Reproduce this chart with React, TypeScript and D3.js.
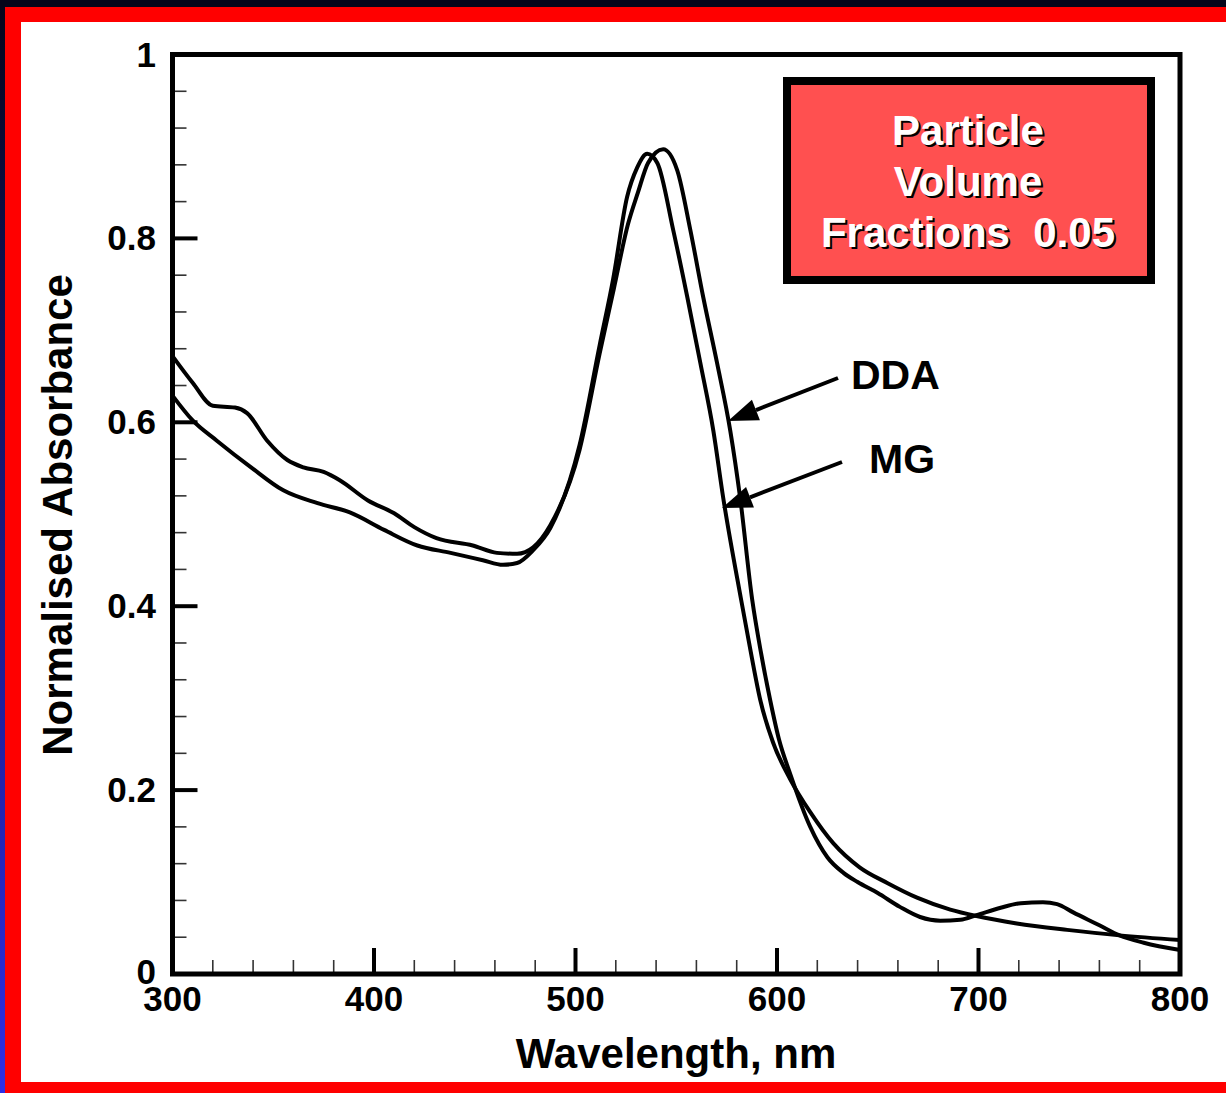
import { useEffect } from "react";
import * as d3 from "d3";

// DDA spectrum (wiggly one)
const ddaWl = [300, 310, 320, 331, 337, 347, 357, 365, 375, 383, 397, 410, 420, 431, 449, 461, 471, 479, 487.5, 502, 512, 519, 526, 531, 536, 543.5, 550.5, 557, 563.4, 570.3, 576.8, 581.7, 587.7, 592, 596.6, 601, 606.5, 616.5, 625, 633, 640, 650, 661, 671, 681, 691, 699, 711, 721, 732, 739, 747, 760, 770, 782, 800];
const ddaAbs = [0.672, 0.643, 0.618, 0.616, 0.61, 0.58, 0.559, 0.551, 0.546, 0.537, 0.515, 0.501, 0.486, 0.474, 0.466, 0.458, 0.457, 0.464, 0.488, 0.57, 0.675, 0.745, 0.815, 0.85, 0.882, 0.897, 0.874, 0.809, 0.736, 0.664, 0.591, 0.518, 0.407, 0.35, 0.298, 0.255, 0.218, 0.16, 0.127, 0.11, 0.1, 0.088, 0.073, 0.062, 0.058, 0.059, 0.064, 0.072, 0.077, 0.078, 0.076, 0.067, 0.053, 0.042, 0.034, 0.026];

// Maxwell Garnett spectrum (smooth)
const mgWl = [300, 310, 322, 339, 355, 372, 388, 405, 421.5, 438, 454, 464, 471, 479, 487.5, 502, 512, 518.7, 525.6, 530.6, 535.6, 540.6, 548.5, 555.5, 562, 568.4, 573.3, 582.2, 587, 591.7, 598, 606.5, 616.5, 628, 641, 654.7, 669.5, 686, 699, 719, 744, 770, 800];
const mgAbs = [0.629, 0.602, 0.58, 0.551, 0.526, 0.512, 0.502, 0.483, 0.466, 0.458, 0.45, 0.445, 0.447, 0.461, 0.485, 0.575, 0.684, 0.756, 0.845, 0.877, 0.892, 0.882, 0.809, 0.736, 0.664, 0.591, 0.518, 0.407, 0.35, 0.298, 0.252, 0.212, 0.176, 0.142, 0.116, 0.099, 0.083, 0.07, 0.063, 0.055, 0.048, 0.042, 0.037];

const xTicks = [300, 400, 500, 600, 700, 800];
const yTicks = [0, 0.2, 0.4, 0.6, 0.8, 1];
const yTickLabels = ["0", "0.2", "0.4", "0.6", "0.8", "1"];
const boxLines = ["Particle", "Volume", "Fractions  0.05"];

const W = 1226;
const H = 1093;
const FONT = "'Liberation Sans', Arial, Helvetica, sans-serif";

const App = () => {
  useEffect(() => {
    document.body.style.margin = "0";
  }, []);

  const left = 172.5;
  const right = 1180;
  const top = 54.5;
  const bottom = 974;

  const x = d3.scaleLinear().domain([300, 800]).range([left, right]);
  const y = d3.scaleLinear().domain([0, 1]).range([bottom, top]);

  const line = d3
    .line<[number, number]>()
    .x((d) => x(d[0]))
    .y((d) => y(d[1]))
    .curve(d3.curveMonotoneX);

  const ddaPts = ddaWl.map((w, i) => [w, ddaAbs[i]] as [number, number]);
  const mgPts = mgWl.map((w, i) => [w, mgAbs[i]] as [number, number]);

  const xMinor = d3.range(300, 801, 20).filter((v) => v % 100 !== 0);
  const yMinor = d3.range(0, 25).map((i) => i * 0.04).filter((_, i) => i % 5 !== 0);

  const arrow = (x1: number, y1: number, x2: number, y2: number) => {
    const ang = Math.atan2(y2 - y1, x2 - x1);
    const len = 30;
    const half = 11;
    const bx = x2 - len * Math.cos(ang);
    const by = y2 - len * Math.sin(ang);
    const px = -Math.sin(ang) * half;
    const py = Math.cos(ang) * half;
    return (
      <g>
        <line x1={x1} y1={y1} x2={bx} y2={by} stroke="#000" strokeWidth={4} />
        <polygon
          points={`${x2},${y2} ${bx + px},${by + py} ${bx - px},${by - py}`}
          fill="#000"
        />
      </g>
    );
  };

  return (
    <svg width={W} height={H} style={{ display: "block" }} fontFamily={FONT}>
      <defs>
        <linearGradient id="edge" x1="0" y1="0" x2="0" y2="1">
          <stop offset="0" stopColor="#05051a" />
          <stop offset="1" stopColor="#2f2fe6" />
        </linearGradient>
      </defs>
      <rect x={0} y={0} width={W} height={H} fill="url(#edge)" />
      <rect x={0} y={0} width={W} height={7} fill="#05051a" />
      <rect x={5} y={7} width={W} height={H} fill="#ff0000" />
      <rect x={21} y={22} width={W} height={1060} fill="#ffffff" />

      {/* minor ticks */}
      {xMinor.map((v) => (
        <line key={"xm" + v} x1={x(v)} x2={x(v)} y1={bottom} y2={bottom - 14} stroke="#333" strokeWidth={1.6} />
      ))}
      {yMinor.map((v) => (
        <line key={"ym" + v} x1={left} x2={left + 14} y1={y(v)} y2={y(v)} stroke="#333" strokeWidth={1.6} />
      ))}
      {/* major ticks */}
      {xTicks.map((v) => (
        <line key={"xt" + v} x1={x(v)} x2={x(v)} y1={bottom} y2={bottom - 26} stroke="#000" strokeWidth={4} />
      ))}
      {yTicks.map((v) => (
        <line key={"yt" + v} x1={left} x2={left + 25} y1={y(v)} y2={y(v)} stroke="#000" strokeWidth={4} />
      ))}

      {/* curves */}
      <path d={line(mgPts) ?? ""} fill="none" stroke="#000" strokeWidth={4} strokeLinejoin="round" />
      <path d={line(ddaPts) ?? ""} fill="none" stroke="#000" strokeWidth={4} strokeLinejoin="round" />

      {/* frame */}
      <rect x={left} y={top} width={right - left} height={bottom - top} fill="none" stroke="#000" strokeWidth={5} />

      {/* tick labels */}
      {xTicks.map((v) => (
        <text key={"xl" + v} x={x(v)} y={1011} textAnchor="middle" fontSize={35} fontWeight="bold">
          {v}
        </text>
      ))}
      {yTicks.map((v, i) => (
        <text key={"yl" + v} x={156} y={y(v) + (v === 0 ? 10 : 12)} textAnchor="end" fontSize={35} fontWeight="bold">
          {yTickLabels[i]}
        </text>
      ))}

      {/* axis titles */}
      <text x={676} y={1068} textAnchor="middle" fontSize={42} fontWeight="bold">
        Wavelength, nm
      </text>
      <text
        transform="translate(72,515) rotate(-90)"
        textAnchor="middle"
        fontSize={42}
        fontWeight="bold"
      >
        Normalised Absorbance
      </text>

      {/* info box */}
      <rect x={787} y={81} width={364} height={199} fill="#ff5050" stroke="#000" strokeWidth={8} />
      {boxLines.map((t, i) => (
        <g key={t}>
          <text x={970} y={147 + i * 51} textAnchor="middle" fontSize={42} fontWeight="bold" fill="#000" style={{ whiteSpace: "pre" }}>
            {t}
          </text>
          <text x={968} y={145 + i * 51} textAnchor="middle" fontSize={42} fontWeight="bold" fill="#fff" style={{ whiteSpace: "pre" }}>
            {t}
          </text>
        </g>
      ))}

      {/* annotations */}
      {arrow(838, 378, 728, 421)}
      {arrow(842, 462, 722, 508)}
      <text x={851} y={389} fontSize={41} fontWeight="bold">DDA</text>
      <text x={869} y={473} fontSize={41} fontWeight="bold">MG</text>
    </svg>
  );
};

export default App;
